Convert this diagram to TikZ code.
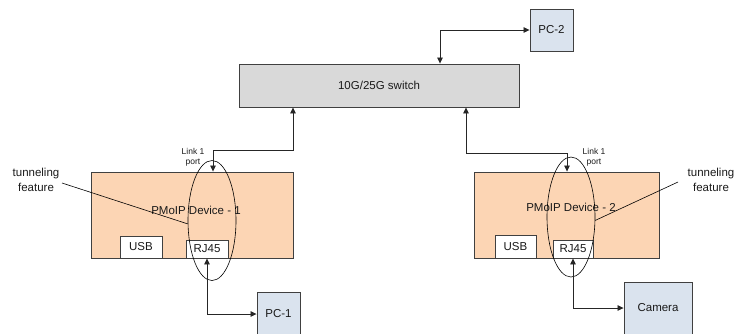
\documentclass[tikz,border=0pt]{standalone}
\usepackage{fontspec}
\setmainfont{Liberation Sans}
\usetikzlibrary{arrows.meta,shapes.geometric}
\definecolor{peach}{HTML}{FCD5B4}
\definecolor{pcblue}{HTML}{DAE3EE}
\definecolor{swgray}{HTML}{D9D9D9}
\definecolor{edge}{HTML}{404040}
\definecolor{txt}{HTML}{1A1A1A}
\begin{document}
\begin{tikzpicture}[x=1pt,y=-1pt,
  box/.style={draw=edge,line width=0.9pt,inner sep=0pt,font=\fontsize{11.5}{13}\selectfont,text=txt},
  portbox/.style={box,fill=white},
  lbl/.style={inner sep=0pt,text=txt,align=center},
  conn/.style={line width=0.8pt,draw=black!85,{Triangle[length=6pt,width=5.5pt]}-{Triangle[length=6pt,width=5.5pt]}},
  ring/.style={draw=black,line width=0.6pt},
  pointer/.style={draw=black,line width=0.6pt}]
\useasboundingbox (0,0) rectangle (735,333);
\clip (0,0) rectangle (735,333);
% switch and PC-2
\node[box,fill=swgray,minimum width=280,minimum height=43] (sw) at (379,85.5) {10G/25G switch};
\node[box,fill=pcblue,minimum width=43,minimum height=42] (pc2) at (551.5,30) {PC-2};
% device 1
\node[box,fill=peach,minimum width=202,minimum height=86] (dev1) at (192,215) {};
\node[lbl,font=\fontsize{11.5}{13}\selectfont] (dev1t) at (196,210) {PMoIP Device - 1};
\node[portbox,minimum width=42,minimum height=22] (usb1) at (141,247) {USB};
\node[portbox,minimum width=42,minimum height=18] (rj1) at (207,249) {RJ45};
\node[box,fill=pcblue,minimum width=43,minimum height=44] (pc1) at (278.5,314) {PC-1};
\node[ring,ellipse,minimum width=48,minimum height=120,inner sep=0pt] (el1) at (212,220.5) {};
% device 2
\node[box,fill=peach,minimum width=185,minimum height=86] (dev2) at (566.5,215) {};
\node[lbl,font=\fontsize{11.5}{13}\selectfont] (dev2t) at (571,207) {PMoIP Device - 2};
\node[portbox,minimum width=41,minimum height=23] (usb2) at (515.5,246.5) {USB};
\node[portbox,minimum width=40,minimum height=18] (rj2) at (573,249) {RJ45};
\node[box,fill=pcblue,minimum width=68,minimum height=52] (cam) at (658,308) {Camera};
\node[ring,ellipse,minimum width=48,minimum height=120,inner sep=0pt] (el2) at (571,217) {};
% labels
\node[lbl,font=\fontsize{8.5}{10}\selectfont] (lp1) at (193,157) {Link 1\\port};
\node[lbl,font=\fontsize{8.5}{10}\selectfont] (lp2) at (594,157) {Link 1\\port};
\node[lbl,font=\fontsize{11.5}{15}\selectfont] (tf1) at (36,180) {tunneling\\feature};
\node[lbl,font=\fontsize{11.5}{15}\selectfont] (tf2) at (711,180) {tunneling\\feature};
\coordinate (tf1e) at (62,183);
\coordinate (tf2e) at (678,182);
\draw[pointer] (tf1e) -- (el1.188);
\draw[pointer] (tf2e) -- (el2.-8);
% connectors
\draw[conn] (sw.north -| 440,0) |- (pc2.west);
\draw[conn] (sw.south -| 293,0) -- (293,150) -| (dev1.north -| 213,0);
\draw[conn] (sw.south -| 466,0) -- (466,153) -| (dev2.north -| 567,0);
\draw[conn] (rj1.south) |- (pc1.west);
\draw[conn] (rj2.south) |- (cam.west);
\end{tikzpicture}
\end{document}
